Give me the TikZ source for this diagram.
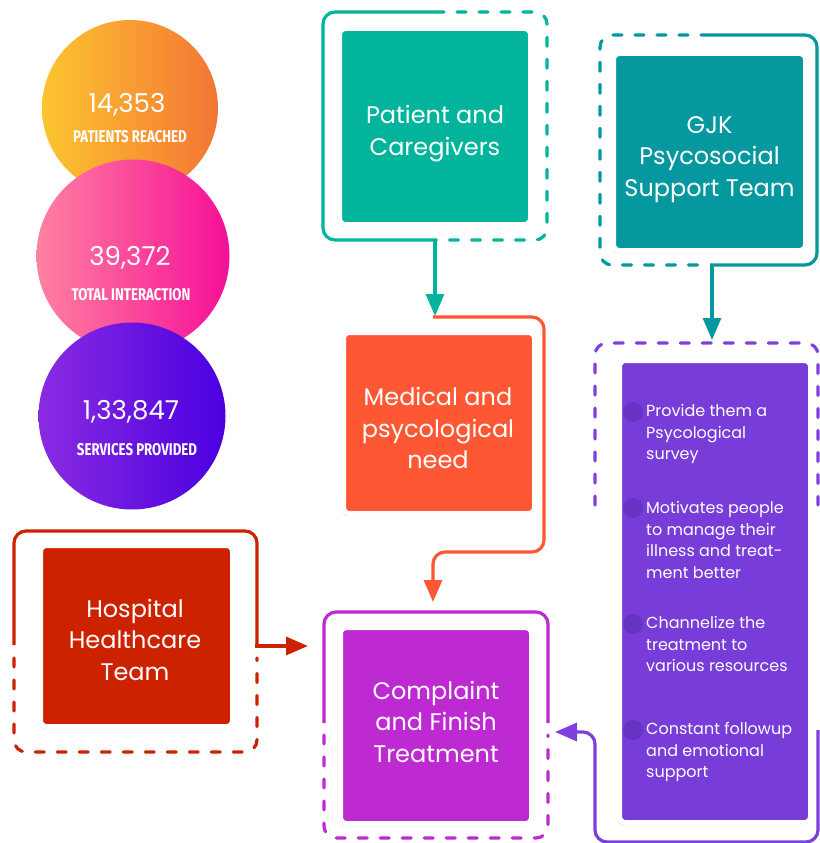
\documentclass[tikz,border=0pt]{standalone}
\usepackage{fontspec}
\setmainfont{Poppins}
\newfontfamily\lblfont{Fira Sans}[FakeStretch=0.78]
\usetikzlibrary{arrows.meta,shadows}
\definecolor{cteal}{HTML}{02B49B}
\definecolor{cgjk}{HTML}{05989F}
\definecolor{corange}{HTML}{FE5733}
\definecolor{cred}{HTML}{CC2200}
\definecolor{cmag}{HTML}{BE2AD2}
\definecolor{cpurple}{HTML}{783CD8}
\definecolor{cpurpleline}{HTML}{7E40DD}
\definecolor{cbullet}{HTML}{6733C2}
\definecolor{gA}{HTML}{FCC530}
\definecolor{gB}{HTML}{F47535}
\definecolor{gC}{HTML}{FF81A0}
\definecolor{gD}{HTML}{F60F98}
\definecolor{gE}{HTML}{8A2BE2}
\definecolor{gF}{HTML}{4A00DF}
\tikzset{
  card/.style={rounded corners=6pt, draw=white, line width=5pt, inner sep=0pt,
    drop shadow={shadow xshift=-1.5pt, shadow yshift=-2.5pt, opacity=0.18, fill=black}},
  cardtext/.style={text=white, align=center, inner sep=0pt, font=\fontsize{24}{31.5}\selectfont},
  frm/.style={line width=3.2pt, rounded corners=12pt},
  dsh/.style={dash pattern=on 9pt off 13pt, line cap=round},
  arr/.style={-{Triangle[length=22pt,width=18pt]}},
  stat/.style={circle, inner sep=0pt},
  num/.style={anchor=base, text=white, font=\fontsize{26}{30}\selectfont},
  lbl/.style={anchor=base, text=white, font=\lblfont\bfseries\fontsize{17}{20}\selectfont},
  item/.style={anchor=north west, align=left, inner sep=0pt, text=white, font=\fontsize{16}{21.5}\selectfont},
  bullet/.style={circle, fill=cbullet, minimum size=20pt, inner sep=0pt}
}
\begin{document}
\begin{tikzpicture}[x=1pt,y=-1pt]
\useasboundingbox (0,0) rectangle (819,843);
\fill[white] (0,0) rectangle (819,843);

% statistic circles
\node[stat, minimum size=176pt, left color=gA, right color=gB] (c1) at (130,108) {};
\node[stat, minimum size=193pt, left color=gC, right color=gD] (c2) at (133,256) {};
\node[stat, minimum size=187pt, left color=gE, right color=gF] (c3) at (132,416) {};
\node[num] (n1) at (127,112) {14,353};
\node[lbl] (l1) at (130,142) {PATIENTS REACHED};
\node[num] (n2) at (130,265) {39,372};
\node[lbl] (l2) at (131,300) {TOTAL INTERACTION};
\node[num] (n3) at (131,419) {1,33,847};
\node[lbl] (l3) at (137,455) {SERVICES PROVIDED};

% Patient and Caregivers
\draw[frm, cteal] (435,12) -- (323,12) -- (323,240) -- (435,240);
\draw[frm, dsh, cteal] (435,12) -- (547,12) -- (547,240) -- (435,240);
\node[card, fill=cteal, minimum width=191pt, minimum height=196pt] (pc) at (435,126.5) {};
\node[cardtext] (pct) at (435,133.5) {Patient and\\Caregivers};

% GJK
\draw[frm, cgjk] (710,35) -- (817,35) -- (817,265) -- (710,265);
\draw[frm, dsh, cgjk] (710,35) -- (600,35) -- (600,265) -- (710,265);
\node[card, fill=cgjk, minimum width=192pt, minimum height=197pt] (gjk) at (709.5,152) {};
\node[cardtext] (gjkt) at (709.5,159.5) {GJK\\Psycosocial\\Support Team};

% Medical
\node[card, fill=corange, minimum width=191pt, minimum height=181pt] (med) at (439,423) {};
\node[cardtext] (medt) at (438,428) {Medical and\\psycological\\need};

% Hospital
\draw[frm, cred] (14,645) -- (14,531) -- (257,531) -- (257,646);
\draw[frm, dsh, cred] (14,658) -- (14,752) -- (257,752) -- (257,658);
\node[card, fill=cred, minimum width=192pt, minimum height=181pt] (hosp) at (136.5,636) {};
\node[cardtext] (hospt) at (135,639.5) {Hospital\\Healthcare\\Team};

% Complaint
\draw[frm, cmag] (324,723) -- (324,612) -- (548,612) -- (548,723);
\draw[frm, dsh, cmag] (324,735) -- (324,838) -- (548,838) -- (548,735);
\node[card, fill=cmag, minimum width=191pt, minimum height=196pt] (comp) at (436,725.5) {};
\node[cardtext] (compt) at (436,721.5) {Complaint\\and Finish\\Treatment};

% List frame
\draw[frm, dsh, cpurpleline] (595,505) -- (595,343) -- (818,343) -- (818,505);
\node[card, fill=cpurple, minimum width=191pt, minimum height=462pt] (lst) at (715,591.5) {};

% bullets and items
\node[bullet] (b1) at (633,412) {};
\node[bullet] (b2) at (633,508) {};
\node[bullet] (b3) at (633,624) {};
\node[bullet] (b4) at (633,730) {};
\node[item] (i1) at (646,404.4) {Provide them a\\Psycological\\survey};
\node[item] (i2) at (646,501.4) {Motivates people\\to manage their\\illness and treat-\\ment better};
\node[item] (i3) at (646,616.4) {Channelize the\\treatment to\\various resources};
\node[item] (i4) at (646,722.4) {Constant followup\\and emotional\\support};

% connector coordinates
\coordinate (pcout) at (435,240);
\coordinate (medin) at (435,316);
\coordinate (medtop) at (433,317);
\coordinate (compin) at (433,602);
\coordinate (gjkout) at (712,265);
\coordinate (lstin) at (712,340);
\coordinate (hout) at (255.4,646);
\coordinate (hin) at (308,646);
\coordinate (lstout) at (818,730);
\coordinate (compin2) at (555,732);

% connectors
\draw[line width=3.2pt, cteal, arr] (pcout) -- (medin);
\draw[line width=3.2pt, cgjk, arr] (gjkout) -- (lstin);
\draw[line width=3.2pt, corange, arr, rounded corners=12pt] (medtop) -- (544,317) -- (544,552) -- (433,552) -- (compin);
\draw[line width=3.2pt, cred, arr] (hout) -- (hin);
\draw[line width=3.2pt, cpurpleline, arr, rounded corners=12pt] (lstout) -- (818,842) -- (595,842) -- (595,732) -- (compin2);
\end{tikzpicture}
\end{document}
